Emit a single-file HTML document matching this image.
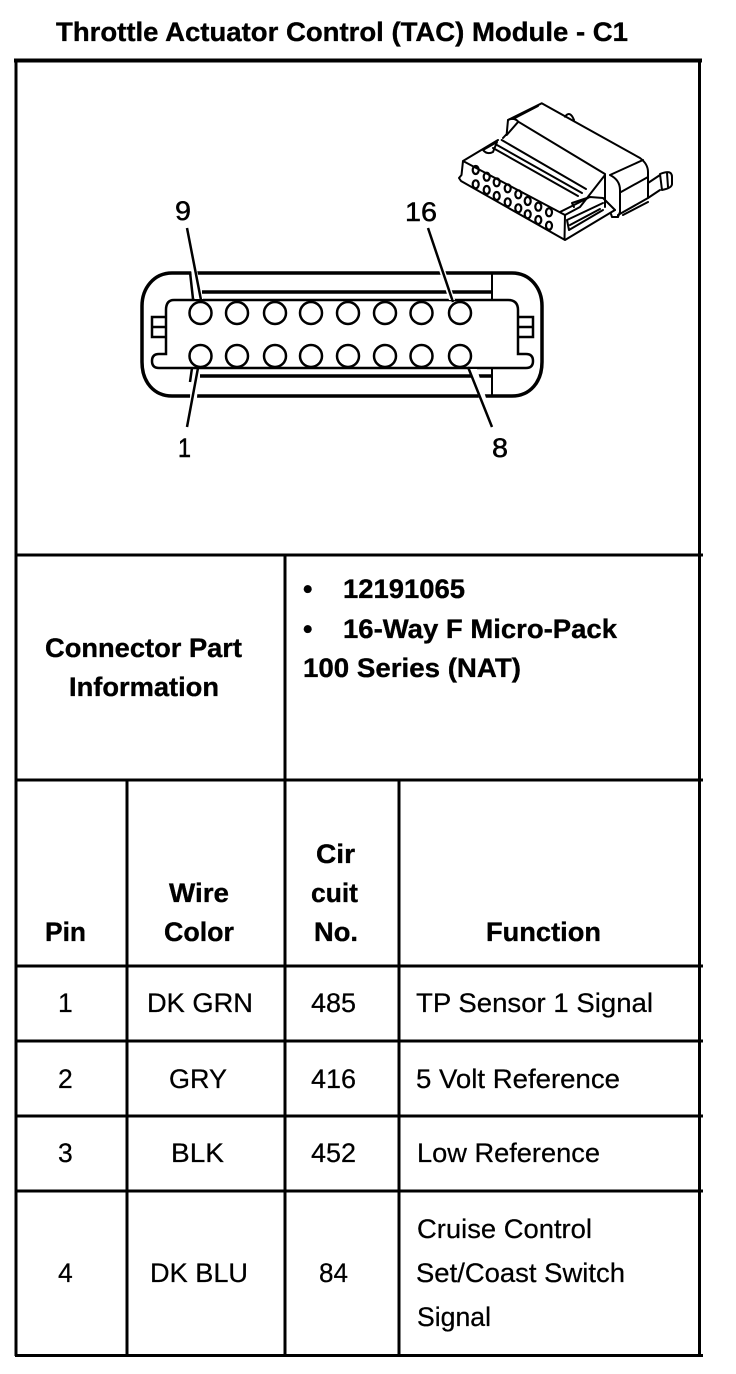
<!DOCTYPE html>
<html><head><meta charset="utf-8"><style>
html,body{margin:0;padding:0;background:#fff;width:736px;height:1374px;overflow:hidden}
svg{display:block}
text{font-family:"Liberation Sans",Arial,sans-serif;font-size:26.500px;fill:#000;stroke:#000;stroke-width:.25px}
.b{font-weight:bold;font-size:27px;stroke-width:.35px}
</style></head><body>
<svg width="736" height="1374" viewBox="0 0 736 1374" xmlns="http://www.w3.org/2000/svg">
<rect width="736" height="1374" fill="#fff"/>
<!-- table -->
<g stroke="#000" fill="none">
<path stroke-width="4" d="M14 60.500H702"/>
<path stroke-width="3" d="M16 59V1356M699.500 59V1356M285 555V1356M127 780V1356M399 780V1356"/>
<path stroke-width="3" d="M15 555H703M15 780H703M15 966H703M15 1041H703M15 1116H703M15 1191H703M15 1355.500H703"/>
</g>
<!-- connector face -->
<g stroke="#000" fill="none" stroke-width="3.500">
<path d="M172 273H512C530 273 542 288 542 306V362C542 382 530 396 512 396H172C154 396 142 382 142 362V306C142 288 154 273 172 273Z"/>
<path d="M202 292H492M200 376H492"/>
<path stroke-width="2.500" d="M174 300H508Q518 300 518 310V354H526Q533 354 533 361T526 368H159Q152 368 152 361T159 354H166V310Q166 300 174 300Z"/>
<path stroke-width="2" d="M492 273V300M492 368V396"/>
<path stroke-width="2.500" d="M166 317H152V337H166M152 327H166M518 317H533V337H518M518 327H533"/>
<g stroke-width="2.500">
<circle cx="200.500" cy="313" r="11"/><circle cx="237" cy="313" r="11"/><circle cx="275" cy="313" r="11"/><circle cx="311" cy="313" r="11"/><circle cx="348" cy="313" r="11"/><circle cx="385" cy="313" r="11"/><circle cx="421.500" cy="313" r="11"/><circle cx="460" cy="313" r="11"/>
<circle cx="200.500" cy="356" r="11"/><circle cx="237" cy="356" r="11"/><circle cx="275" cy="356" r="11"/><circle cx="311" cy="356" r="11"/><circle cx="348" cy="356" r="11"/><circle cx="385" cy="356" r="11"/><circle cx="421.500" cy="356" r="11"/><circle cx="460" cy="356" r="11"/>
</g>
<g fill="#fff" stroke="none">
<path d="M191 270L197 270L203 299L195 299Z"/>
<path d="M191 370L199 370L197 398L190 398Z"/>
<path d="M439 270L445 270L455 300L449 300Z"/>
<path d="M470 369L477 369L486 398L479 398Z"/>
</g>
<path stroke-width="2.500" d="M187 228L201 300M190 272L193 299M187 427L198 368M192 368L190 382M428 228L453 302M468 367L492 427"/>
</g>
<!-- iso connector -->
<g stroke="#000" fill="none" stroke-width="2" stroke-linejoin="round" stroke-linecap="round">
<path d="M463 161L498 140M463 161L565 215L564.500 239M463 161L461.500 175L459 178L461 181L565 240L615 210"/>
<path d="M565 215L580 207L605 175"/>
<path d="M501.700 140L586 189M497 145L582 193M493 148L578 196"/>
<path d="M483 150L497 142L493 152Q487 155 483 150Z"/>
<path d="M508 120L541.700 103.300L640 158Q648 164 648 172V198L618 215L618 217L612 217L611 214"/>
<path d="M513 119L538 106"/>
<path d="M508 120L506.700 134L503 138M508 120Q514 117 518.300 121.700L605 174M518.300 121.700L506.700 135"/>
<path d="M605 175V207M610 175Q620 180 620 190V212L618 217M610 175L643 160M621 192L648 177M623 215L648 202"/>
<path d="M648 183L660 175M648 198L660 190M660 174Q672 169 672 177V184Q672 188 662 190M660 174L662 190M667 173L668 187"/>
<path d="M565 116.700Q570 110 574 120"/>
<path d="M572 203L590 197L603 198M572 203L574 207M560 212L588 198M567 220L603 203M567 220L569 230L603 210M570 225L600 209M603 198L615 210"/>
<g stroke-width="2.200">
<ellipse cx="475.700" cy="170" rx="3" ry="4"/><ellipse cx="486.700" cy="176.700" rx="3" ry="4"/><ellipse cx="496.700" cy="182.300" rx="3" ry="4"/><ellipse cx="507.700" cy="188.300" rx="3" ry="4"/><ellipse cx="518.300" cy="194.300" rx="3" ry="4"/><ellipse cx="527.700" cy="201" rx="3" ry="4"/><ellipse cx="538.300" cy="206.700" rx="3" ry="4"/><ellipse cx="549" cy="212.300" rx="3" ry="4"/>
<ellipse cx="475.700" cy="184.300" rx="3" ry="4"/><ellipse cx="486.700" cy="190" rx="3" ry="4"/><ellipse cx="496.700" cy="196" rx="3" ry="4"/><ellipse cx="507.700" cy="202.300" rx="3" ry="4"/><ellipse cx="518.300" cy="208.300" rx="3" ry="4"/><ellipse cx="527.700" cy="214.300" rx="3" ry="4"/><ellipse cx="538.300" cy="220" rx="3" ry="4"/><ellipse cx="549" cy="225.700" rx="3" ry="4"/>
</g>
</g>
<!-- text -->
<text class="b" x="56" y="41" textLength="572" lengthAdjust="spacingAndGlyphs">Throttle Actuator Control (TAC) Module - C1</text>
<text x="175" y="220" textLength="16" lengthAdjust="spacingAndGlyphs" style="stroke-width:.5px">9</text>
<text x="405" y="221" textLength="32" lengthAdjust="spacingAndGlyphs" style="stroke-width:.5px">16</text>
<text x="178" y="457" textLength="13" lengthAdjust="spacingAndGlyphs" style="stroke-width:.5px">1</text>
<text x="492" y="457" textLength="16" lengthAdjust="spacingAndGlyphs" style="stroke-width:.5px">8</text>
<text class="b" x="45" y="657" textLength="197" lengthAdjust="spacingAndGlyphs">Connector Part</text>
<text class="b" x="69" y="696" textLength="150" lengthAdjust="spacingAndGlyphs">Information</text>
<text class="b" x="303" y="598">•</text>
<text class="b" x="343" y="598" textLength="122" lengthAdjust="spacingAndGlyphs">12191065</text>
<text class="b" x="303" y="638">•</text>
<text class="b" x="343" y="638" textLength="274" lengthAdjust="spacingAndGlyphs">16-Way F Micro-Pack</text>
<text class="b" x="303" y="677" textLength="218" lengthAdjust="spacingAndGlyphs">100 Series (NAT)</text>
<text class="b" x="45" y="941" textLength="41" lengthAdjust="spacingAndGlyphs">Pin</text>
<text class="b" x="169" y="902" textLength="60" lengthAdjust="spacingAndGlyphs">Wire</text>
<text class="b" x="164" y="941" textLength="70" lengthAdjust="spacingAndGlyphs">Color</text>
<text class="b" x="316" y="863" textLength="39" lengthAdjust="spacingAndGlyphs">Cir</text>
<text class="b" x="311" y="902" textLength="47" lengthAdjust="spacingAndGlyphs">cuit</text>
<text class="b" x="314" y="941" textLength="44" lengthAdjust="spacingAndGlyphs">No.</text>
<text class="b" x="486" y="941" textLength="115" lengthAdjust="spacingAndGlyphs">Function</text>
<text x="58" y="1012">1</text>
<text x="147" y="1012" textLength="106" lengthAdjust="spacingAndGlyphs">DK GRN</text>
<text x="311" y="1012" textLength="45" lengthAdjust="spacingAndGlyphs">485</text>
<text x="416" y="1012" textLength="237" lengthAdjust="spacingAndGlyphs">TP Sensor 1 Signal</text>
<text x="58" y="1088">2</text>
<text x="169" y="1088" textLength="58" lengthAdjust="spacingAndGlyphs">GRY</text>
<text x="311" y="1088" textLength="45" lengthAdjust="spacingAndGlyphs">416</text>
<text x="416" y="1088" textLength="204" lengthAdjust="spacingAndGlyphs">5 Volt Reference</text>
<text x="58" y="1162">3</text>
<text x="171" y="1162" textLength="53" lengthAdjust="spacingAndGlyphs">BLK</text>
<text x="311" y="1162" textLength="45" lengthAdjust="spacingAndGlyphs">452</text>
<text x="417" y="1162" textLength="183" lengthAdjust="spacingAndGlyphs">Low Reference</text>
<text x="58" y="1282">4</text>
<text x="150" y="1282" textLength="98" lengthAdjust="spacingAndGlyphs">DK BLU</text>
<text x="319" y="1282" textLength="29" lengthAdjust="spacingAndGlyphs">84</text>
<text x="417" y="1238" textLength="175" lengthAdjust="spacingAndGlyphs">Cruise Control</text>
<text x="416" y="1282" textLength="209" lengthAdjust="spacingAndGlyphs">Set/Coast Switch</text>
<text x="417" y="1326" textLength="74" lengthAdjust="spacingAndGlyphs">Signal</text>
</svg>
</body></html>
